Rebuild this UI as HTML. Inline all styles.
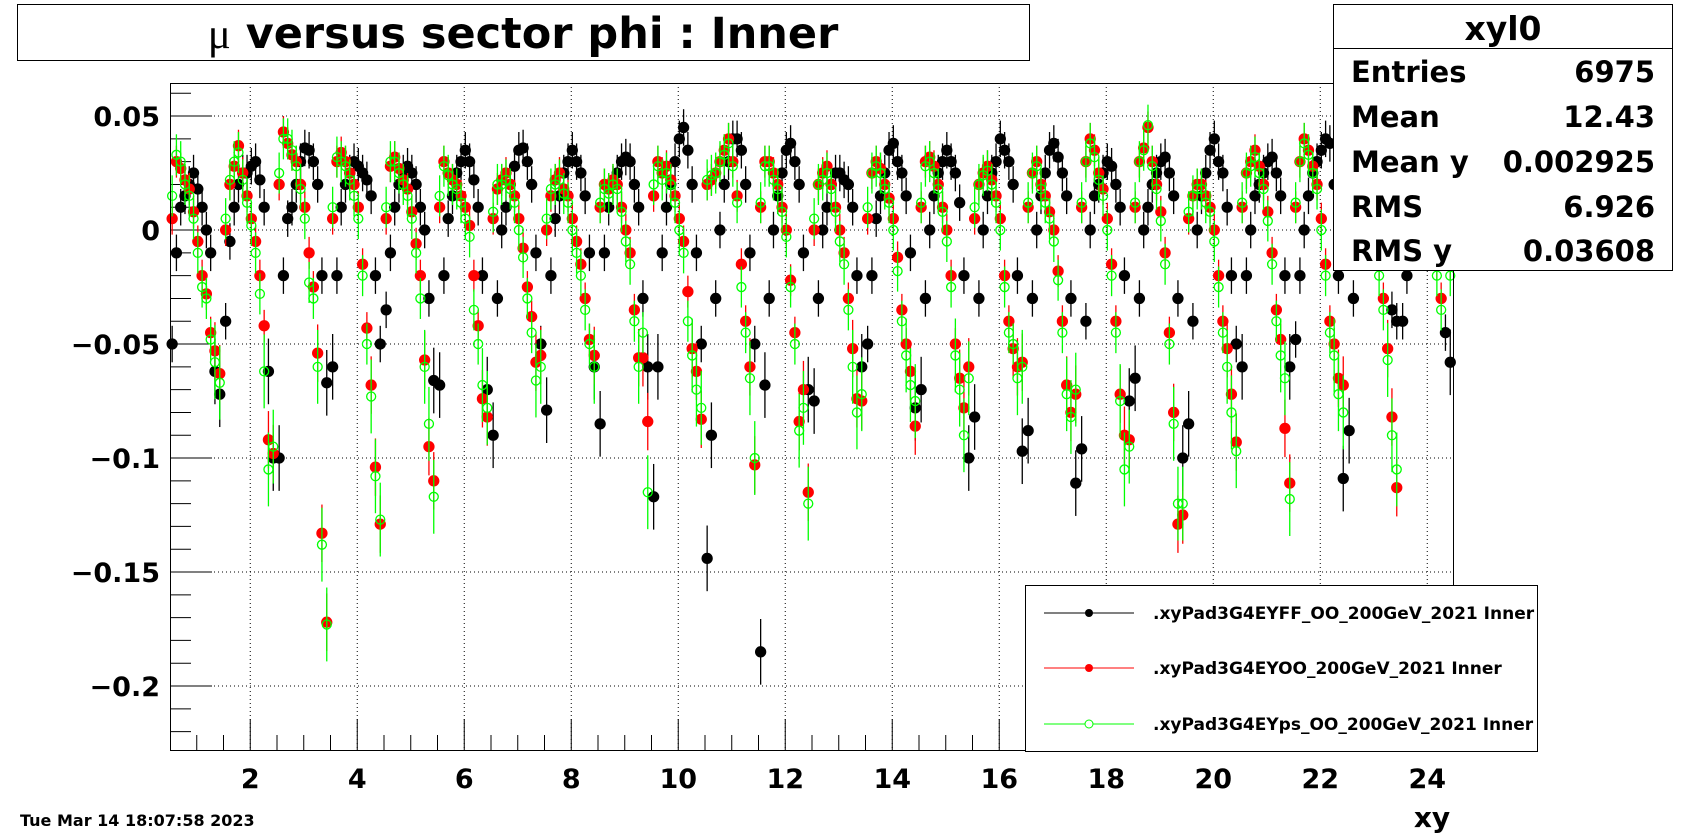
<!DOCTYPE html>
<html><head><meta charset="utf-8"><style>
html,body{margin:0;padding:0;background:#fff;}
svg{display:block;font-family:"DejaVu Sans","Liberation Sans",sans-serif;}
</style></head><body>
<svg id="chart" width="1708" height="835" viewBox="0 0 1708 835" xmlns="http://www.w3.org/2000/svg">
<rect x="0" y="0" width="1708" height="835" fill="#fff"/>
<g>
<rect x="17.5" y="4.5" width="1012" height="56" fill="#fff" stroke="#000" stroke-width="1"/>
<text x="523" y="48" text-anchor="middle" font-size="43" font-weight="bold"><tspan font-family="Liberation Serif,serif" font-weight="normal">μ</tspan> versus sector phi : Inner</text>
</g>
<g id="grid"></g>
<g id="axes"></g>
<g id="marks"></g>
<rect x="170.5" y="83.5" width="1283" height="667" fill="none" stroke="#000" stroke-width="1"/>
<g>
<rect x="1333.5" y="4.5" width="339" height="266" fill="#fff" stroke="#000"/>
<line x1="1333" y1="48.5" x2="1673" y2="48.5" stroke="#000"/>
<text x="1503" y="40" text-anchor="middle" font-size="33" font-weight="bold">xyl0</text>
<g font-size="29" font-weight="bold">
<text x="1351" y="82">Entries</text><text x="1655" y="82" text-anchor="end">6975</text>
<text x="1351" y="127">Mean</text><text x="1655" y="127" text-anchor="end">12.43</text>
<text x="1351" y="172">Mean y</text><text x="1655" y="172" text-anchor="end">0.002925</text>
<text x="1351" y="217">RMS</text><text x="1655" y="217" text-anchor="end">6.926</text>
<text x="1351" y="261">RMS y</text><text x="1655" y="261" text-anchor="end">0.03608</text>
</g></g>
<g>
<rect x="1025.5" y="585.5" width="512" height="166" fill="#fff" stroke="#000"/>
<g>
<line x1="1044" y1="613" x2="1134" y2="613" stroke="#000"/><circle cx="1089" cy="613" r="4" fill="#000"/>
<text x="1153" y="619" font-size="17" font-weight="bold">.xyPad3G4EYFF_OO_200GeV_2021 Inner</text></g>
<g>
<line x1="1044" y1="668" x2="1134" y2="668" stroke="#f00"/><circle cx="1089" cy="668" r="4" fill="#f00"/>
<text x="1153" y="674" font-size="17" font-weight="bold">.xyPad3G4EYOO_200GeV_2021 Inner</text></g>
<g>
<line x1="1044" y1="724" x2="1134" y2="724" stroke="#0f0"/><circle cx="1089" cy="724" r="4" fill="#fff" stroke="#0f0"/>
<text x="1153" y="730" font-size="17" font-weight="bold">.xyPad3G4EYps_OO_200GeV_2021 Inner</text></g>
</g>
<text x="1432" y="827" text-anchor="middle" font-size="28" font-weight="bold">xy</text>
<text x="20" y="826" font-size="16" font-weight="bold">Tue Mar 14 18:07:58 2023</text>
</svg>
<script>
const xTicks=[2,4,6,8,10,12,14,16,18,20,22,24];
const yTicks=[0.05,0,-0.05,-0.1,-0.15,-0.2];
const yTickLabels=["0.05","0","\u22120.05","\u22120.1","\u22120.15","\u22120.2"];
const sectors=[1,2,3,4,5,6,7,8,9,10,11,12,13,14,15,16,17,18,19,20,21,22,23,24];
const xOffsets=[-0.46,-0.38,-0.3,-0.22,-0.14,-0.06,0.02,0.1,0.18,0.26,0.34,0.43];
const redY=[
[0.005,0.03,0.027,0.022,0.018,0.008,-0.005,-0.02,-0.028,-0.045,-0.053,-0.063],
[0.0,0.02,0.028,0.037,0.025,0.015,0.005,-0.005,-0.02,-0.042,-0.092,-0.098],
[0.02,0.043,0.038,0.033,0.03,0.02,0.01,-0.01,-0.025,-0.054,-0.133,-0.172],
[0.005,0.03,0.034,0.03,0.025,0.02,0.01,-0.015,-0.043,-0.068,-0.104,-0.129],
[0.005,0.028,0.032,0.027,0.022,0.018,0.008,-0.006,-0.02,-0.057,-0.095,-0.11],
[0.01,0.03,0.025,0.022,0.02,0.015,0.01,0.002,-0.02,-0.042,-0.074,-0.082],
[0.005,0.018,0.022,0.025,0.02,0.015,0.005,-0.008,-0.025,-0.038,-0.058,-0.055],
[0.0,0.015,0.022,0.025,0.018,0.015,0.005,-0.005,-0.015,-0.03,-0.048,-0.055],
[0.01,0.02,0.018,0.022,0.02,0.01,0.0,-0.01,-0.035,-0.056,-0.056,-0.084],
[0.015,0.03,0.025,0.028,0.022,0.015,0.005,-0.005,-0.027,-0.052,-0.062,-0.083],
[0.02,0.022,0.025,0.03,0.035,0.04,0.03,0.015,-0.015,-0.04,-0.06,-0.103],
[0.01,0.03,0.03,0.025,0.02,0.01,0.0,-0.022,-0.045,-0.084,-0.07,-0.115],
[0.0,0.02,0.025,0.028,0.02,0.01,0.0,-0.01,-0.03,-0.052,-0.074,-0.075],
[0.005,0.025,0.03,0.027,0.02,0.014,0.005,-0.012,-0.035,-0.05,-0.062,-0.086],
[0.01,0.03,0.032,0.028,0.02,0.01,0.0,-0.02,-0.05,-0.065,-0.078,-0.06],
[0.005,0.02,0.025,0.028,0.022,0.015,0.005,-0.02,-0.04,-0.052,-0.06,-0.058],
[0.01,0.025,0.03,0.02,0.015,0.008,0.0,-0.018,-0.04,-0.068,-0.08,-0.072],
[0.01,0.03,0.04,0.035,0.025,0.018,0.005,-0.015,-0.04,-0.072,-0.09,-0.092],
[0.01,0.03,0.036,0.045,0.03,0.02,0.008,-0.01,-0.045,-0.08,-0.129,-0.125],
[0.005,0.015,0.02,0.02,0.015,0.01,0.0,-0.02,-0.04,-0.052,-0.072,-0.093],
[0.01,0.025,0.03,0.035,0.028,0.02,0.008,-0.01,-0.035,-0.048,-0.087,-0.111],
[0.01,0.03,0.04,0.035,0.028,0.02,0.005,-0.015,-0.04,-0.05,-0.065,-0.068],
[0.02,0.025,0.022,0.018,0.015,0.01,0.0,-0.015,-0.03,-0.052,-0.082,-0.113],
[0.01,0.02,0.025,0.028,0.02,0.015,0.005,-0.005,-0.015,-0.03,0.0,-0.015]];
const blackY=[
[-0.05,-0.01,0.01,0.015,0.02,0.025,0.018,0.01,0.0,-0.01,-0.062,-0.072],
[-0.04,-0.005,0.01,0.02,0.025,0.025,0.028,0.03,0.022,0.01,-0.062,-0.1],
[-0.1,-0.02,0.005,0.01,0.02,0.03,0.036,0.035,0.03,0.02,-0.02,-0.067],
[-0.06,-0.02,0.01,0.02,0.025,0.03,0.028,0.025,0.022,0.015,-0.02,-0.05],
[-0.035,-0.01,0.01,0.02,0.025,0.028,0.025,0.02,0.01,0.0,-0.03,-0.066],
[-0.068,-0.02,0.005,0.015,0.025,0.03,0.035,0.03,0.022,0.01,-0.02,-0.07],
[-0.09,-0.03,0.0,0.01,0.02,0.028,0.035,0.036,0.03,0.02,-0.01,-0.05],
[-0.079,-0.02,0.005,0.015,0.025,0.03,0.035,0.03,0.025,0.015,-0.01,-0.06],
[-0.085,-0.01,0.01,0.02,0.025,0.03,0.032,0.03,0.02,0.01,-0.03,-0.06],
[-0.117,-0.06,-0.01,0.01,0.02,0.03,0.04,0.045,0.035,0.02,-0.01,-0.05],
[-0.144,-0.09,-0.03,0.0,0.02,0.03,0.04,0.04,0.035,0.02,-0.01,-0.05],
[-0.185,-0.068,-0.03,0.0,0.015,0.025,0.035,0.038,0.03,0.02,-0.01,-0.07],
[-0.075,-0.03,0.0,0.01,0.02,0.025,0.025,0.022,0.02,0.01,-0.02,-0.06],
[-0.05,-0.02,0.005,0.015,0.025,0.035,0.038,0.03,0.025,0.015,-0.01,-0.078],
[-0.07,-0.03,0.0,0.015,0.025,0.03,0.035,0.03,0.025,0.012,-0.02,-0.1],
[-0.082,-0.03,0.0,0.015,0.025,0.03,0.04,0.035,0.03,0.02,-0.02,-0.097],
[-0.088,-0.03,0.0,0.015,0.025,0.035,0.038,0.032,0.025,0.015,-0.03,-0.111],
[-0.096,-0.04,0.0,0.015,0.02,0.025,0.03,0.028,0.02,0.01,-0.02,-0.075],
[-0.065,-0.03,0.0,0.01,0.02,0.025,0.03,0.032,0.025,0.015,-0.03,-0.1],
[-0.085,-0.04,0.0,0.015,0.025,0.035,0.04,0.03,0.025,0.01,-0.02,-0.05],
[-0.06,-0.02,0.0,0.015,0.02,0.025,0.03,0.032,0.025,0.015,-0.02,-0.06],
[-0.048,-0.02,0.0,0.015,0.025,0.03,0.035,0.04,0.038,0.02,-0.02,-0.109],
[-0.088,-0.03,-0.005,0.01,0.02,0.025,0.028,0.02,0.01,0.0,-0.035,-0.04],
[-0.04,-0.02,0.0,0.01,0.02,0.025,0.02,0.015,0.01,0.0,-0.045,-0.058]];
const greenY=[
[0.015,0.033,0.03,0.02,0.015,0.005,-0.01,-0.025,-0.03,-0.048,-0.058,-0.067],
[0.005,0.022,0.03,0.034,0.022,0.012,0.002,-0.01,-0.028,-0.062,-0.105,-0.095],
[0.025,0.04,0.04,0.035,0.028,0.018,0.005,-0.023,-0.03,-0.06,-0.138,-0.173],
[0.01,0.032,0.03,0.028,0.022,0.015,0.005,-0.02,-0.05,-0.073,-0.108,-0.127],
[0.01,0.03,0.03,0.025,0.02,0.015,0.005,-0.01,-0.03,-0.06,-0.085,-0.117],
[0.015,0.028,0.024,0.02,0.018,0.012,0.005,-0.003,-0.035,-0.05,-0.068,-0.078],
[0.008,0.02,0.02,0.022,0.018,0.012,0.0,-0.012,-0.03,-0.045,-0.066,-0.06],
[0.005,0.018,0.02,0.022,0.016,0.012,0.0,-0.01,-0.02,-0.035,-0.05,-0.06],
[0.012,0.018,0.016,0.02,0.018,0.008,-0.005,-0.015,-0.04,-0.06,-0.045,-0.115],
[0.02,0.028,0.022,0.025,0.02,0.012,0.0,-0.01,-0.04,-0.055,-0.07,-0.078],
[0.022,0.024,0.025,0.03,0.033,0.038,0.028,0.012,-0.025,-0.045,-0.065,-0.1],
[0.012,0.028,0.028,0.022,0.018,0.008,-0.003,-0.025,-0.05,-0.088,-0.078,-0.12],
[0.005,0.02,0.022,0.025,0.018,0.008,-0.005,-0.015,-0.035,-0.06,-0.08,-0.072],
[0.01,0.025,0.028,0.025,0.018,0.012,0.0,-0.018,-0.04,-0.055,-0.068,-0.075],
[0.012,0.028,0.03,0.025,0.018,0.008,-0.005,-0.025,-0.055,-0.07,-0.09,-0.065],
[0.01,0.02,0.024,0.026,0.02,0.012,0.0,-0.025,-0.045,-0.05,-0.065,-0.06],
[0.012,0.025,0.028,0.018,0.012,0.005,-0.005,-0.022,-0.045,-0.072,-0.082,-0.07],
[0.012,0.03,0.038,0.032,0.022,0.015,0.0,-0.02,-0.045,-0.075,-0.105,-0.095],
[0.012,0.03,0.035,0.046,0.028,0.018,0.004,-0.015,-0.05,-0.085,-0.12,-0.12],
[0.008,0.015,0.018,0.018,0.012,0.008,-0.005,-0.025,-0.045,-0.06,-0.08,-0.097],
[0.012,0.025,0.028,0.032,0.025,0.018,0.004,-0.015,-0.04,-0.055,-0.065,-0.118],
[0.012,0.03,0.038,0.033,0.025,0.018,0.0,-0.02,-0.045,-0.055,-0.072,-0.08],
[0.022,0.025,0.02,0.016,0.012,0.008,-0.005,-0.02,-0.035,-0.057,-0.09,-0.105],
[0.012,0.02,0.024,0.026,0.018,0.012,0.002,-0.008,-0.02,-0.035,-0.005,-0.02]];
const errBlack=0.008, errRed=0.007, errGreen=0.009;

const NS="http://www.w3.org/2000/svg";
const L=170,R=1454,T=83,B=751,XMIN=0.5,XMAX=24.5,YMIN=-0.2285,YMAX=0.0645;
function X(v){return L+(v-XMIN)/(XMAX-XMIN)*(R-L);}
function Y(v){return B-(v-YMIN)/(YMAX-YMIN)*(B-T);}
function mk(tag,attrs,parent){const e=document.createElementNS(NS,tag);for(const k in attrs)e.setAttribute(k,attrs[k]);parent.appendChild(e);return e;}
const grid=document.getElementById('grid'),axes=document.getElementById('axes'),marks=document.getElementById('marks');
xTicks.forEach(t=>{
 const g=mk('line',{x1:X(t),y1:T,x2:X(t),y2:B,stroke:'#000','stroke-width':1,'stroke-dasharray':'1,3'},grid);
 
 
 const lab=mk('text',{x:X(t),y:788,'text-anchor':'middle','font-size':27,'font-weight':'bold'},axes);
 lab.textContent=String(t);
 
 
});
for(let v=1;v<=24.5;v+=0.5){
 const major=(v%2===0);
 const tk=mk('line',{x1:X(v),y1:B,x2:X(v),y2:B-(major?32:16),stroke:'#000','stroke-width':1},axes);
 
 
}
yTicks.forEach((t,i)=>{
 const g=mk('line',{x1:L,y1:Y(t),x2:R,y2:Y(t),stroke:'#000','stroke-width':1,'stroke-dasharray':'1,3'},grid);
 
 
 const lab=mk('text',{x:160,y:Y(t)+10,'text-anchor':'end','font-size':27,'font-weight':'bold'},axes);
 lab.textContent=yTickLabels[i];
 
 
});
for(let k=-22;k<=6;k++){
 const v=k/100;
 const major=(k%5===0);
 const tk=mk('line',{x1:L,y1:Y(v),x2:L+(major?42:21),y2:Y(v),stroke:'#000','stroke-width':1},axes);
 
 
}
function drawSeries(rows,color,filled,err,name){
 const g=mk('g',{},marks);
 
 
 rows.forEach((row,si)=>{
  row.forEach((v,j)=>{
   const x=X(sectors[si]+xOffsets[j]);
   const e=err*(v<-0.05?1.8:1);
   const bar=mk('line',{x1:x,y1:Y(v+e),x2:x,y2:Y(v-e),stroke:color,'stroke-width':1.3},g);
   
   
   const c=mk('circle',{cx:x,cy:Y(v),r:filled?5:4.5,fill:filled?color:'none',stroke:color,'stroke-width':1.3},g);
   
   
  });
 });
}
drawSeries(blackY,'#000',true,errBlack,'series-ff');
drawSeries(redY,'#f00',true,errRed,'series-oo');
drawSeries(greenY,'#0f0',false,errGreen,'series-ps');
</script>
</body></html>
